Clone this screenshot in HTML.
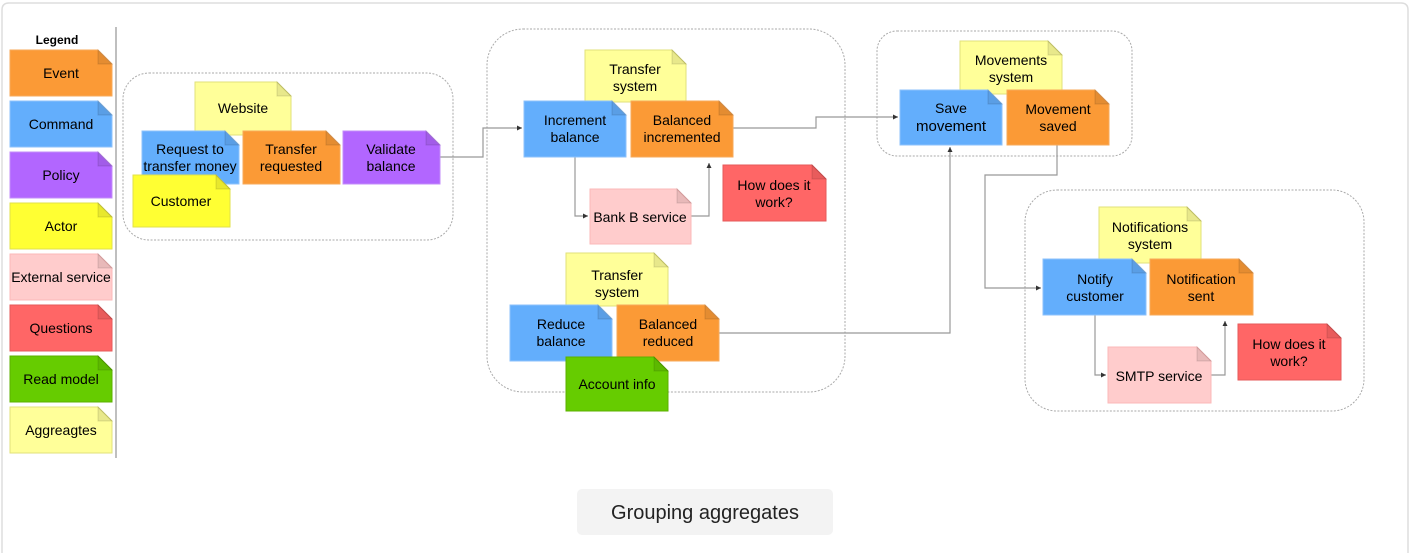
<!DOCTYPE html>
<html><head><meta charset="utf-8"><style>
html,body{margin:0;padding:0;background:#fff;}
svg{display:block;font-family:"Liberation Sans",Arial,sans-serif;}
.t{font-size:14px;fill:#000;text-anchor:middle;}
.g{fill:none;stroke:#aaa;stroke-width:1;stroke-dasharray:2 1.5;}
.c{fill:none;stroke:#999;stroke-width:1.2;}
.f{fill:rgba(0,0,0,0.09);stroke:rgba(0,0,0,0.12);stroke-width:1;}
</style></head><body>
<svg width="1410" height="553" viewBox="0 0 1410 553" xmlns="http://www.w3.org/2000/svg">
<defs>
<marker id="a" markerWidth="6" markerHeight="6" refX="5" refY="3" orient="auto" markerUnits="userSpaceOnUse"><path d="M0,0.5 L5,3 L0,5.5 z" fill="#333"/></marker>
</defs>
<path d="M2,560 V10 Q2,3 9,3 H1401 Q1408,3 1408,10 V560" fill="none" stroke="#ddd" stroke-width="1.5"/>

<!-- Legend -->
<text x="57" y="44" class="t" style="font-weight:bold;font-size:12px">Legend</text>
<line x1="116" y1="27" x2="116" y2="458" stroke="#aaa" stroke-width="1.5"/>

<!-- note helper macro expanded manually: path + fold + text -->
<g>
<path d="M10,50 H98 L112,64 V96 H10 Z" fill="#fb9a36" stroke="#f7a95a"/><path d="M98,50 L112,64 H98 Z" class="f"/><text x="61" y="78" class="t">Event</text>
<path d="M10,101 H98 L112,115 V147 H10 Z" fill="#63aefc" stroke="#8cc2fb"/><path d="M98,101 L112,115 H98 Z" class="f"/><text x="61" y="129" class="t">Command</text>
<path d="M10,152 H98 L112,166 V198 H10 Z" fill="#b266ff" stroke="#c38cfa"/><path d="M98,152 L112,166 H98 Z" class="f"/><text x="61" y="180" class="t">Policy</text>
<path d="M10,203 H98 L112,217 V249 H10 Z" fill="#ffff33" stroke="#e2e24a"/><path d="M98,203 L112,217 H98 Z" class="f"/><text x="61" y="231" class="t">Actor</text>
<path d="M10,254 H98 L112,268 V300 H10 Z" fill="#ffcccc" stroke="#fbb9b9"/><path d="M98,254 L112,268 H98 Z" class="f"/><text x="61" y="282" class="t">External service</text>
<path d="M10,305 H98 L112,319 V351 H10 Z" fill="#ff6666" stroke="#e55a5a"/><path d="M98,305 L112,319 H98 Z" class="f"/><text x="61" y="333" class="t">Questions</text>
<path d="M10,356 H98 L112,370 V402 H10 Z" fill="#66cc00" stroke="#5cb000"/><path d="M98,356 L112,370 H98 Z" class="f"/><text x="61" y="384" class="t">Read model</text>
<path d="M10,407 H98 L112,421 V453 H10 Z" fill="#ffff99" stroke="#e2e27a"/><path d="M98,407 L112,421 H98 Z" class="f"/><text x="61" y="435" class="t">Aggreagtes</text>
</g>

<!-- Groups -->
<rect x="123" y="73" width="330" height="167" rx="26" class="g"/>
<rect x="487" y="29" width="358" height="363" rx="36" class="g"/>
<rect x="877" y="31" width="255" height="125" rx="20" class="g"/>
<rect x="1025" y="190" width="339" height="221" rx="32" class="g"/>

<!-- Connectors -->
<path d="M440,157 H483 V128 H522" class="c" marker-end="url(#a)"/>
<path d="M575,157 V216 H588" class="c" marker-end="url(#a)"/>
<path d="M691,216 H709 V163" class="c" marker-end="url(#a)"/>
<path d="M733,128 H816 V117 H898" class="c" marker-end="url(#a)"/>
<path d="M719,333 H950 V147" class="c" marker-end="url(#a)"/>
<path d="M1057,145 V175 H985 V288 H1041" class="c" marker-end="url(#a)"/>
<path d="M1095,315 V375 H1106" class="c" marker-end="url(#a)"/>
<path d="M1211,375 H1225 V321" class="c" marker-end="url(#a)"/>

<!-- Group 1 -->
<path d="M195,82 H277 L291,96 V135 H195 Z" fill="#ffff99" stroke="#e2e27a"/><path d="M277,82 L291,96 H277 Z" class="f"/><text x="243" y="113" class="t">Website</text>
<path d="M142,131 H225 L239,145 V184 H142 Z" fill="#63aefc" stroke="#8cc2fb"/><path d="M225,131 L239,145 H225 Z" class="f"/><text x="190" y="154" class="t">Request to</text><text x="190" y="171" class="t">transfer money</text>
<path d="M243,131 H326 L340,145 V184 H243 Z" fill="#fb9a36" stroke="#f7a95a"/><path d="M326,131 L340,145 H326 Z" class="f"/><text x="291" y="154" class="t">Transfer</text><text x="291" y="171" class="t">requested</text>
<path d="M343,131 H426 L440,145 V184 H343 Z" fill="#b266ff" stroke="#c38cfa"/><path d="M426,131 L440,145 H426 Z" class="f"/><text x="391" y="154" class="t">Validate</text><text x="391" y="171" class="t">balance</text>
<path d="M133,175 H216 L230,189 V227 H133 Z" fill="#ffff33" stroke="#e2e24a"/><path d="M216,175 L230,189 H216 Z" class="f"/><text x="181" y="206" class="t">Customer</text>

<!-- Group 2 -->
<path d="M585,50 H672 L686,64 V102 H585 Z" fill="#ffff99" stroke="#e2e27a"/><path d="M672,50 L686,64 H672 Z" class="f"/><text x="635" y="74" class="t">Transfer</text><text x="635" y="91" class="t">system</text>
<path d="M524,101 H612 L626,115 V157 H524 Z" fill="#63aefc" stroke="#8cc2fb"/><path d="M612,101 L626,115 H612 Z" class="f"/><text x="575" y="125" class="t">Increment</text><text x="575" y="142" class="t">balance</text>
<path d="M631,101 H719 L733,115 V157 H631 Z" fill="#fb9a36" stroke="#f7a95a"/><path d="M719,101 L733,115 H719 Z" class="f"/><text x="682" y="125" class="t">Balanced</text><text x="682" y="142" class="t">incremented</text>
<path d="M590,189 H677 L691,203 V244 H590 Z" fill="#ffcccc" stroke="#fbb9b9"/><path d="M677,189 L691,203 H677 Z" class="f"/><text x="640" y="222" class="t">Bank B service</text>
<path d="M723,165 H812 L826,179 V221 H723 Z" fill="#ff6666" stroke="#e55a5a"/><path d="M812,165 L826,179 H812 Z" class="f"/><text x="774" y="190" class="t">How does it</text><text x="774" y="207" class="t">work?</text>
<path d="M566,253 H654 L668,267 V306 H566 Z" fill="#ffff99" stroke="#e2e27a"/><path d="M654,253 L668,267 H654 Z" class="f"/><text x="617" y="280" class="t">Transfer</text><text x="617" y="297" class="t">system</text>
<path d="M510,305 H598 L612,319 V361 H510 Z" fill="#63aefc" stroke="#8cc2fb"/><path d="M598,305 L612,319 H598 Z" class="f"/><text x="561" y="329" class="t">Reduce</text><text x="561" y="346" class="t">balance</text>
<path d="M617,305 H705 L719,319 V361 H617 Z" fill="#fb9a36" stroke="#f7a95a"/><path d="M705,305 L719,319 H705 Z" class="f"/><text x="668" y="329" class="t">Balanced</text><text x="668" y="346" class="t">reduced</text>
<path d="M566,357 H654 L668,371 V411 H566 Z" fill="#66cc00" stroke="#5cb000"/><path d="M654,357 L668,371 H654 Z" class="f"/><text x="617" y="389" class="t">Account info</text>

<!-- Group 3 -->
<path d="M960,41 H1048 L1062,55 V94 H960 Z" fill="#ffff99" stroke="#e2e27a"/><path d="M1048,41 L1062,55 H1048 Z" class="f"/><text x="1011" y="65" class="t">Movements</text><text x="1011" y="82" class="t">system</text>
<path d="M900,90 H988 L1002,104 V145 H900 Z" fill="#63aefc" stroke="#8cc2fb"/><path d="M988,90 L1002,104 H988 Z" class="f"/><text x="951" y="113" class="t">Save</text><text x="951" y="131" class="t" style="font-size:15px">movement</text>
<path d="M1007,90 H1095 L1109,104 V145 H1007 Z" fill="#fb9a36" stroke="#f7a95a"/><path d="M1095,90 L1109,104 H1095 Z" class="f"/><text x="1058" y="114" class="t">Movement</text><text x="1058" y="131" class="t">saved</text>

<!-- Group 4 -->
<path d="M1099,207 H1187 L1201,221 V263 H1099 Z" fill="#ffff99" stroke="#e2e27a"/><path d="M1187,207 L1201,221 H1187 Z" class="f"/><text x="1150" y="232" class="t">Notifications</text><text x="1150" y="249" class="t">system</text>
<path d="M1043,259 H1132 L1146,273 V315 H1043 Z" fill="#63aefc" stroke="#8cc2fb"/><path d="M1132,259 L1146,273 H1132 Z" class="f"/><text x="1095" y="284" class="t">Notify</text><text x="1095" y="301" class="t">customer</text>
<path d="M1150,259 H1239 L1253,273 V315 H1150 Z" fill="#fb9a36" stroke="#f7a95a"/><path d="M1239,259 L1253,273 H1239 Z" class="f"/><text x="1201" y="284" class="t">Notification</text><text x="1201" y="301" class="t">sent</text>
<path d="M1108,347 H1197 L1211,361 V403 H1108 Z" fill="#ffcccc" stroke="#fbb9b9"/><path d="M1197,347 L1211,361 H1197 Z" class="f"/><text x="1159" y="381" class="t">SMTP service</text>
<path d="M1238,324 H1327 L1341,338 V380 H1238 Z" fill="#ff6666" stroke="#e55a5a"/><path d="M1327,324 L1341,338 H1327 Z" class="f"/><text x="1289" y="349" class="t">How does it</text><text x="1289" y="366" class="t">work?</text>

<!-- Caption -->
<rect x="577" y="489" width="256" height="46" rx="5" fill="#f3f3f3"/>
<text x="705" y="519" class="t" style="font-size:20px;fill:#222">Grouping aggregates</text>
</svg>
</body></html>
